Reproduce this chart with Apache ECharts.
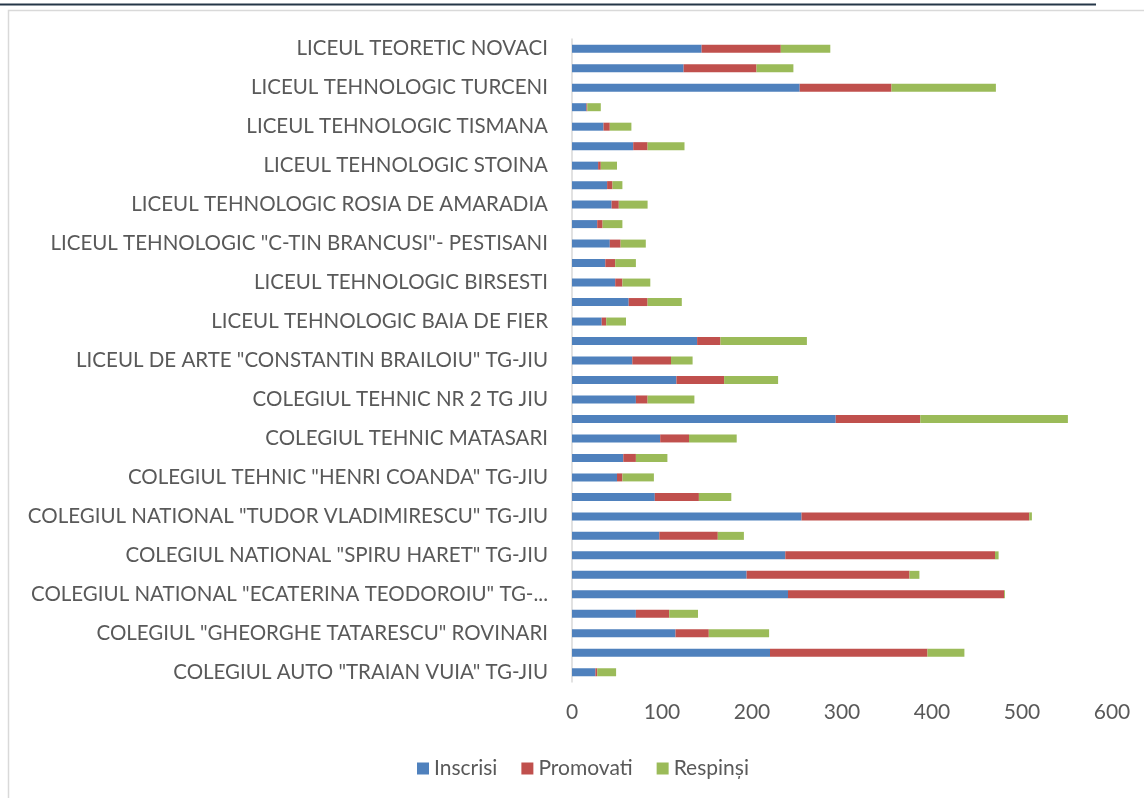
<!DOCTYPE html>
<html>
<head>
<meta charset="utf-8">
<script src="https://cdn.jsdelivr.net/npm/echarts@6/dist/echarts.min.js"></script>
<style>
html,body{margin:0;padding:0;background:#fff;}
#c{width:1144px;height:798px;}
</style>
</head>
<body>
<div id="c"></div>
<script>
const categories = [
  'COLEGIUL AUTO "TRAIAN VUIA" TG-JIU',
  'COLEGIUL ECONOMIC "VIRGIL MADGEARU" TG-JIU',
  'COLEGIUL "GHEORGHE TATARESCU" ROVINARI',
  'COLEGIUL NATIONAL "GEORGE COSBUC" MOTRU',
  'COLEGIUL NATIONAL "ECATERINA TEODOROIU" TG-JIU',
  'COLEGIUL NATIONAL "MIHAI EMINESCU"',
  'COLEGIUL NATIONAL "SPIRU HARET" TG-JIU',
  'COLEGIUL NATIONAL "TUDOR ARGHEZI" TG-CARBUNESTI',
  'COLEGIUL NATIONAL "TUDOR VLADIMIRESCU" TG-JIU',
  'COLEGIUL TEHNIC "GENERAL GHEORGHE MAGHERU" TG-JIU',
  'COLEGIUL TEHNIC "HENRI COANDA" TG-JIU',
  'COLEGIUL TEHNIC "ION MINCU" TG-JIU',
  'COLEGIUL TEHNIC MATASARI',
  'COLEGIUL TEHNIC MOTRU',
  'COLEGIUL TEHNIC NR 2 TG JIU',
  'LICEUL CU PROGRAM SPORTIV TG-JIU',
  'LICEUL DE ARTE "CONSTANTIN BRAILOIU" TG-JIU',
  'LICEUL TEHNOLOGIC ALBENI',
  'LICEUL TEHNOLOGIC BAIA DE FIER',
  'LICEUL TEHNOLOGIC BALESTI',
  'LICEUL TEHNOLOGIC BIRSESTI',
  'LICEUL TEHNOLOGIC BUMBESTI-JIU',
  'LICEUL TEHNOLOGIC "C-TIN BRANCUSI"- PESTISANI',
  'LICEUL TEHNOLOGIC DANESTI',
  'LICEUL TEHNOLOGIC ROSIA DE AMARADIA',
  'LICEUL TEHNOLOGIC SACELU',
  'LICEUL TEHNOLOGIC STOINA',
  'LICEUL TEHNOLOGIC TICLENI',
  'LICEUL TEHNOLOGIC TISMANA',
  'LICEUL TEHNOLOGIC TURBURETA',
  'LICEUL TEHNOLOGIC TURCENI',
  'LICEUL TEORETIC BUMBESTI-JIU',
  'LICEUL TEORETIC NOVACI'
];
const inscrisi  = [26, 220, 115, 71, 240, 194, 237, 97, 255, 92, 50, 57, 98, 293, 71, 116, 67, 139, 33, 63, 48, 37, 42, 28, 44, 39, 29, 68, 35, 16, 253, 124, 144];
const promovati = [2, 175, 37, 37, 240, 181, 233, 65, 253, 49, 6, 14, 32, 94, 13, 53, 43, 26, 5, 21, 8, 11, 12, 6, 8, 6, 3, 16, 7, 1, 102, 81, 88];
const respinsi  = [21, 41, 67, 32, 1, 11, 4, 29, 3, 36, 35, 35, 53, 164, 52, 60, 24, 96, 22, 38, 31, 23, 28, 22, 32, 11, 18, 41, 24, 15, 116, 41, 55];
const seriesNames = ['Inscrisi', 'Promovati', 'Respinși'];
const xTicks = [0, 100, 200, 300, 400, 500, 600];

const FONT = 'Lato';
const TXT = '#595959';
const chart = echarts.init(document.getElementById('c'), null, {renderer: 'canvas'});
const colors = ['#4F81BD', '#C0504D', '#9BBB59'];
const dataSets = [inscrisi, promovati, respinsi];

chart.setOption({
  animation: false,
  backgroundColor: '#ffffff',
  textStyle: {fontFamily: FONT},
  graphic: [
    {type: 'line', shape: {x1: 0, y1: 4.5, x2: 1096, y2: 4.5}, style: {stroke: '#253648', lineWidth: 2}, silent: true},
    {type: 'rect', shape: {x: 8.5, y: 10.5, width: 1200, height: 900}, style: {fill: 'none', stroke: '#d9d9d9', lineWidth: 1.5}, silent: true}
  ],
  grid: {left: 572, right: 32, top: 39, bottom: 116, containLabel: false},
  legend: {
    left: 412, top: 753,
    icon: 'rect', itemWidth: 12, itemHeight: 12, itemGap: 24,
    textStyle: {color: TXT, fontSize: 21, fontFamily: FONT},
    data: seriesNames
  },
  xAxis: {
    type: 'value', min: xTicks[0], max: xTicks[xTicks.length - 1], interval: 100,
    axisLine: {show: false}, axisTick: {show: false}, splitLine: {show: false},
    axisLabel: {color: TXT, fontSize: 21, fontFamily: FONT, margin: 20}
  },
  yAxis: {
    type: 'category', data: categories,
    axisLine: {show: true, lineStyle: {color: '#d9d9d9', width: 1.5}},
    axisTick: {show: false},
    axisLabel: {interval: 1, color: TXT, fontSize: 20.5, fontFamily: FONT, margin: 24,
      width: 524, overflow: 'truncate', ellipsis: '...'}
  },
  series: dataSets.map((d, i) => ({
    name: seriesNames[i], type: 'bar', stack: 'total', barWidth: 8,
    itemStyle: {color: colors[i]},
    data: d
  }))
});
</script>
</body>
</html>
